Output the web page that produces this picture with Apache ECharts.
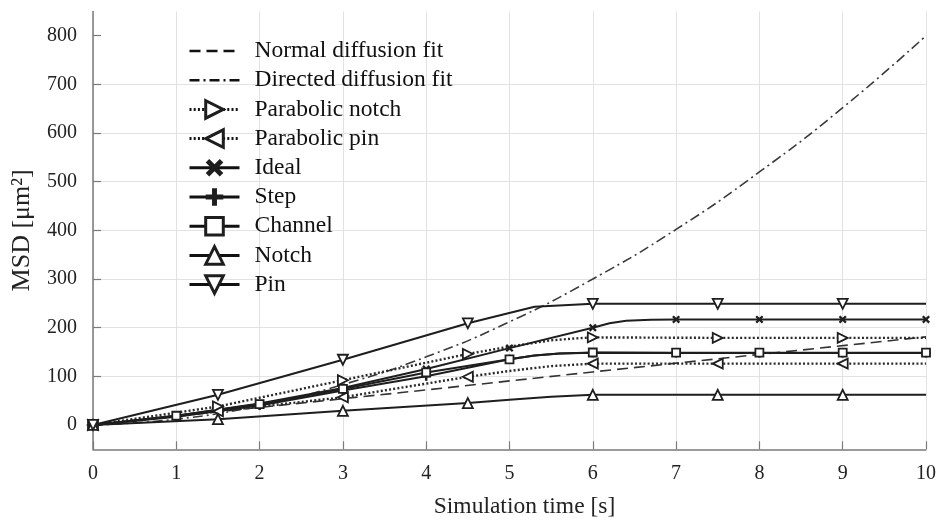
<!DOCTYPE html>
<html><head><meta charset="utf-8">
<script src="https://cdn.jsdelivr.net/npm/echarts@6/dist/echarts.min.js"></script>
<style>html,body{margin:0;padding:0;background:#fff}#c{width:936px;height:522px}</style>
</head><body><div id="c"></div>
<script>
// ---- data ----
const xTicks = [0, 1, 2, 3, 4, 5, 6, 7, 8, 9, 10];
const yTicks = [0, 100, 200, 300, 400, 500, 600, 700, 800];
const seriesNames = ['Normal diffusion fit', 'Directed diffusion fit', 'Parabolic notch', 'Parabolic pin', 'Ideal', 'Step', 'Channel', 'Notch', 'Pin'];

const normalT = [0, 2, 4, 6, 8, 10];
const normalV = [0, 36, 72, 109, 145, 181];

const directedT = [0, 1, 2, 3, 4, 5, 6, 7, 8, 9, 10];
const directedV = [0, 12, 40, 83, 140, 212, 300, 402, 520, 652, 800];

const parNotchT = [0, 1.5, 3, 4.5, 5, 5.5, 5.8, 6, 7.5, 9, 10];
const parNotchV = [0, 38, 92, 146, 161, 174, 178, 180, 179, 179, 179];
const parNotchMarks = [0, 1.5, 3, 4.5, 6, 7.5, 9];

const parPinT = [0, 1.5, 3, 4.5, 5, 5.5, 6, 7.5, 9, 10];
const parPinV = [0, 28, 57, 99, 111, 121, 126, 126, 126, 126];
const parPinMarks = [0, 1.5, 3, 4.5, 6, 7.5, 9];

const idealT = [0, 1, 2, 3, 4, 5, 6, 6.2, 6.4, 6.7, 7, 8, 9, 10];
const idealV = [0, 19, 44, 76, 115, 158, 200, 209, 214, 216.5, 217, 217, 217, 217];
const idealMarks = [0, 1, 2, 3, 4, 5, 6, 7, 8, 9, 10];

const stepT = [0, 1, 2, 3, 4, 5, 5.3, 5.6, 6, 7, 8, 9, 10];
const stepV = [0, 17, 40, 71, 100, 135, 143, 147, 148.5, 148, 148, 148, 148];
const stepMarks = [0, 1, 2, 3, 4, 5, 6, 7, 8, 9, 10];

const channelT = [0, 1, 2, 3, 4, 5, 5.3, 5.6, 6, 7, 8, 9, 10];
const channelV = [0, 19, 43, 74, 108, 135, 143, 147, 149, 148.5, 148.5, 148.5, 148.5];
const channelMarks = [0, 1, 2, 3, 4, 5, 6, 7, 8, 9, 10];

const notchT = [0, 1.5, 3, 4.5, 5, 5.5, 6, 7.5, 9, 10];
const notchV = [0, 12, 29, 45, 52, 58, 62, 62, 62, 62];
const notchMarks = [0, 1.5, 3, 4.5, 6, 7.5, 9];

const pinT = [0, 1.5, 3, 4.5, 5.3, 6, 7.5, 9, 10];
const pinV = [0, 62, 134, 209, 243, 249, 249, 249, 249];
const pinMarks = [0, 1.5, 3, 4.5, 6, 7.5, 9];

// ---- styling ----
const FONT = "'Liberation Serif', 'Times New Roman', serif";
const CROSS = 'path://M2,0 L5,3 L8,0 L10,2 L7,5 L10,8 L8,10 L5,7 L2,10 L0,8 L3,5 L0,2 Z';
const PLUS = 'path://M3.6,0 H6.4 V3.6 H10 V6.4 H6.4 V10 H3.6 V6.4 H0 V3.6 H3.6 Z';

function build(T, V, marks) {
  return T.map((t, i) => marks && marks.indexOf(t) >= 0 ? { value: [t, V[i]] } : { value: [t, V[i]], symbol: 'none' });
}
const hollow = { color: '#fff', borderColor: '#1e1e1e', borderWidth: 1.8 };
const solidLine = { color: '#1e1e1e', width: 2 };
const dottedLine = { color: '#2a2a2a', width: 2.4, type: [2, 2.2] };

const series = [
  { name: seriesNames[0], data: build(normalT, normalV, null), symbol: 'circle', showSymbol: false,
    itemStyle: { color: 'rgba(0,0,0,0)', borderColor: 'rgba(0,0,0,0)' },
    lineStyle: { color: '#333', width: 1.6, type: [11, 6] } },
  { name: seriesNames[1], data: build(directedT, directedV, null), symbol: 'circle', showSymbol: false, smooth: true,
    itemStyle: { color: 'rgba(0,0,0,0)', borderColor: 'rgba(0,0,0,0)' },
    lineStyle: { color: '#3a3a3a', width: 1.6, type: [10, 4, 2, 4] } },
  { name: seriesNames[2], data: build(parNotchT, parNotchV, parNotchMarks), symbol: 'triangle', symbolRotate: -90, symbolSize: 10,
    itemStyle: hollow, lineStyle: dottedLine },
  { name: seriesNames[3], data: build(parPinT, parPinV, parPinMarks), symbol: 'triangle', symbolRotate: 90, symbolSize: 10,
    itemStyle: hollow, lineStyle: dottedLine },
  { name: seriesNames[4], data: build(idealT, idealV, idealMarks), symbol: CROSS, symbolSize: 8,
    itemStyle: { color: '#1e1e1e' }, lineStyle: solidLine },
  { name: seriesNames[5], data: build(stepT, stepV, stepMarks), symbol: PLUS, symbolSize: 9,
    itemStyle: { color: '#1e1e1e' }, lineStyle: solidLine },
  { name: seriesNames[6], data: build(channelT, channelV, channelMarks), symbol: 'rect', symbolSize: 8,
    itemStyle: hollow, lineStyle: solidLine },
  { name: seriesNames[7], data: build(notchT, notchV, notchMarks), symbol: 'triangle', symbolSize: 10,
    itemStyle: hollow, lineStyle: solidLine },
  { name: seriesNames[8], data: build(pinT, pinV, pinMarks), symbol: 'triangle', symbolRotate: 180, symbolSize: 10,
    itemStyle: hollow, lineStyle: solidLine }
].map(s => Object.assign({ type: 'line', showAllSymbol: true, z: 3 }, s));

const legendData = seriesNames.map((n, i) => i < 2
  ? { name: n, itemStyle: { color: 'rgba(0,0,0,0)', borderColor: 'rgba(0,0,0,0)', borderWidth: 0 }, lineStyle: { width: 2.6, color: '#111' } }
  : { name: n, itemStyle: { borderWidth: 3 }, lineStyle: { width: 3, color: '#111' } });

const chart = echarts.init(document.getElementById('c'), null, { renderer: 'canvas' });
chart.setOption({
  animation: false,
  backgroundColor: '#fff',
  grid: { left: 93, right: 10, top: 11.4, bottom: 72.7, outerBoundsMode: 'none', containLabel: false },
  legend: {
    orient: 'vertical', left: 183, top: 34,
    itemWidth: 50, itemHeight: 22, itemGap: 5.2,
    data: legendData,
    textStyle: { fontFamily: FONT, fontSize: 23.5, color: '#111', lineHeight: 22, padding: [0, 0, 0, 10] },
    selectedMode: false
  },
  xAxis: {
    type: 'value', min: 0, max: 10, interval: 1,
    axisLine: { onZero: false, lineStyle: { color: '#7a7a7a', width: 1.5 } },
    axisTick: { inside: true, length: 8, lineStyle: { color: '#7a7a7a', width: 1.2 } },
    splitLine: { show: true, lineStyle: { color: '#e2e2e2', width: 1 } },
    axisLabel: { customValues: xTicks, fontFamily: FONT, fontSize: 20, color: '#222', margin: 14 },
    name: 'Simulation time [s]', nameLocation: 'middle', nameGap: 46,
    nameTextStyle: { fontFamily: FONT, fontSize: 23.5, color: '#222', padding: [0, 0, 0, 30] }
  },
  yAxis: {
    type: 'value', min: -50, max: 850,
    axisLine: { show: true, onZero: false, lineStyle: { color: '#7a7a7a', width: 1.5 } },
    axisTick: { show: true, inside: true, length: 8, customValues: yTicks, lineStyle: { color: '#7a7a7a', width: 1.2 } },
    splitLine: { show: true, showMinLine: false, showMaxLine: false, lineStyle: { color: '#e2e2e2', width: 1 } },
    axisLabel: { customValues: yTicks, fontFamily: FONT, fontSize: 20, color: '#222', margin: 16,
      formatter: v => (v >= 0 && v <= 800 && v % 100 === 0) ? String(v) : '' },
    name: 'MSD [μm²]', nameLocation: 'middle', nameGap: 58, nameRotate: 90,
    nameTextStyle: { fontFamily: FONT, fontSize: 26, color: '#222' }
  },
  series: series
});
</script></body></html>
